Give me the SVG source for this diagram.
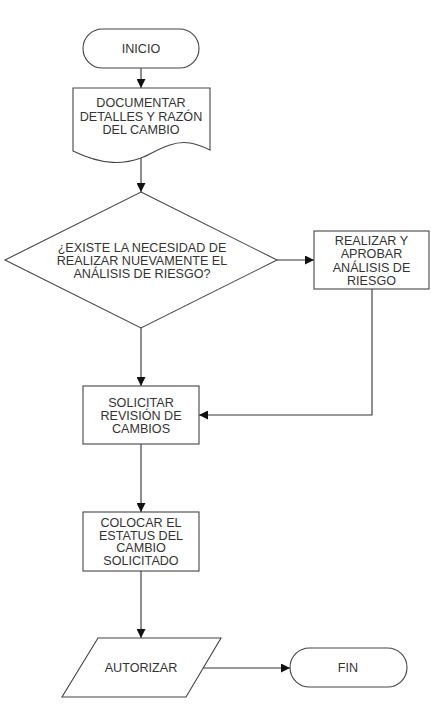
<svg xmlns="http://www.w3.org/2000/svg" width="431" height="706" viewBox="0 0 431 706">
<defs>
<marker id="arr" markerUnits="userSpaceOnUse" markerWidth="9" markerHeight="9" viewBox="0 0 9 9" refX="9" refY="4.5" orient="auto">
<path d="M0,0 L9,4.5 L0,9 z" fill="#111"/>
</marker>
<style>
.s{fill:#fff;stroke:#444;stroke-width:1.1}
.t{font-family:"Liberation Sans",Arial,sans-serif;font-size:12.6px;fill:#333;text-anchor:middle}
.c{fill:none;stroke:#333;stroke-width:1.1;marker-end:url(#arr)}
</style>
</defs>
<rect width="431" height="706" fill="#fff"/>
<g id="connectors">
<path class="c" d="M141,68 V88"/>
<path class="c" d="M141,154 V192"/>
<path class="c" d="M277,260 H314"/>
<path class="c" d="M141,328 V386"/>
<path class="c" d="M372,289 V415 H199"/>
<path class="c" d="M141,444 V512"/>
<path class="c" d="M141,571 V638"/>
<path class="c" d="M203,668 H290"/>
</g>
<g id="inicio">
<rect class="s" x="83" y="29" width="116" height="39" rx="19.5" ry="19.5"/>
<text class="t" x="141" y="52.5">INICIO</text>
</g>
<g id="documentar">
<path class="s" d="M73,88 H210 V150 C196,143 184,140 170,145 C155,150 148,156 141,158 C124,164 104,166 73,151 Z"/>
<text class="t" x="141" y="107">DOCUMENTAR</text>
<text class="t" x="141" y="120.5">DETALLES Y RAZÓN</text>
<text class="t" x="141" y="134">DEL CAMBIO</text>
</g>
<g id="decision">
<path class="s" d="M141,192 L277,260 L141,328 L5,260 Z"/>
<text class="t" x="142" y="252">¿EXISTE LA NECESIDAD DE</text>
<text class="t" x="142" y="265">REALIZAR NUEVAMENTE EL</text>
<text class="t" x="142" y="278">ANÁLISIS DE RIESGO?</text>
</g>
<g id="realizar">
<rect class="s" x="314" y="231" width="115" height="58"/>
<text class="t" x="371.5" y="245">REALIZAR Y</text>
<text class="t" x="371.5" y="258.3">APROBAR</text>
<text class="t" x="371.5" y="271.7">ANÁLISIS DE</text>
<text class="t" x="371.5" y="285">RIESGO</text>
</g>
<g id="solicitar">
<rect class="s" x="83" y="386" width="116" height="58"/>
<text class="t" x="141" y="406.7">SOLICITAR</text>
<text class="t" x="141" y="419.5">REVISIÓN DE</text>
<text class="t" x="141" y="432.7">CAMBIOS</text>
</g>
<g id="colocar">
<rect class="s" x="83" y="512" width="116" height="59"/>
<text class="t" x="141" y="526.7">COLOCAR EL</text>
<text class="t" x="141" y="539.5">ESTATUS DEL</text>
<text class="t" x="141" y="552.3">CAMBIO</text>
<text class="t" x="141" y="565">SOLICITADO</text>
</g>
<g id="autorizar">
<path class="s" d="M98,638 H221 L186,697 H62 Z"/>
<text class="t" x="141" y="671.7">AUTORIZAR</text>
</g>
<g id="fin">
<rect class="s" x="290" y="648" width="117" height="39" rx="19.5" ry="19.5"/>
<text class="t" x="348" y="671.7">FIN</text>
</g>
</svg>
